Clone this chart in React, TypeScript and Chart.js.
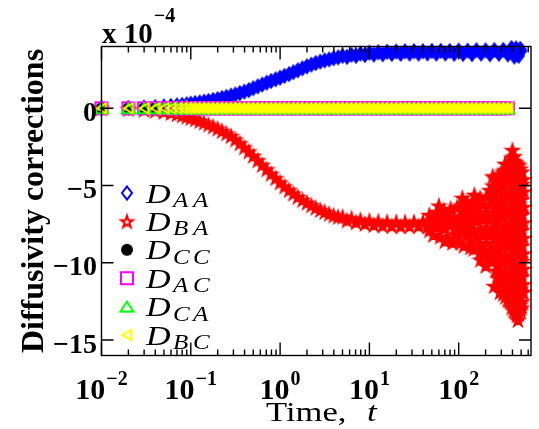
import React, { useEffect, useRef } from 'react';
import { Chart, registerables } from 'chart.js';
Chart.register(...registerables);

// ---------- data (values in units of 1e-4) ----------
const times = [0.01, 0.02, 0.03, 0.04, 0.05, 0.06, 0.07, 0.08, 0.09,
  0.1, 0.112, 0.126, 0.141, 0.158, 0.178, 0.2, 0.224, 0.251, 0.282, 0.316, 0.355, 0.398, 0.447, 0.501, 0.562, 0.631, 0.708, 0.794, 0.891,
  1, 1.12, 1.26, 1.41, 1.58, 1.78, 2, 2.24, 2.51, 2.82, 3.16, 3.55, 3.98, 4.47, 5.01, 5.62, 6.31, 7.08, 7.94, 8.91,
  10, 11.2, 12.6, 14.1, 15.8, 17.8, 20, 22.4, 25.1, 28.2, 31.6, 35.5, 39.8, 44.7, 50.1, 56.2, 63.1, 70.8, 79.4, 89.1,
  100, 112, 126, 141, 158, 178, 200, 224, 251, 282, 316, 355, 398, 447, 501];

const dAA = [0, 0.02, 0.05, 0.08, 0.12, 0.15, 0.19, 0.22, 0.26,
  0.3, 0.34, 0.38, 0.43, 0.48, 0.54, 0.6, 0.67, 0.74, 0.82, 0.9, 0.99, 1.08, 1.18, 1.3, 1.42, 1.54, 1.66, 1.77, 1.88,
  1.98, 2.1, 2.22, 2.34, 2.46, 2.59, 2.72, 2.83, 2.93, 3.02, 3.1, 3.17, 3.24, 3.3, 3.39, 3.33, 3.47, 3.4, 3.54, 3.45,
  3.6, 3.48, 3.63, 3.5, 3.66, 3.52, 3.68, 3.53, 3.69, 3.54, 3.7, 3.54, 3.7, 3.55, 3.71, 3.54, 3.72, 3.55, 3.71, 3.53,
  3.74, 3.52, 3.73, 3.51, 3.76, 3.54, 3.75, 3.5, 3.77, 3.53, 3.78, 3.49, 3.8, 3.5, 3.72];
const dAAExtraT = [390, 420, 440, 470, 490];
const dAAExtraY = [3.9, 3.35, 3.88, 3.4, 3.85];

const dBA = [0, -0.05, -0.1, -0.16, -0.23, -0.3, -0.38, -0.46, -0.55,
  -0.63, -0.72, -0.82, -0.93, -1.05, -1.18, -1.32, -1.47, -1.63, -1.8, -2.02, -2.27, -2.53, -2.8, -3.08, -3.37, -3.66, -3.95, -4.24, -4.52,
  -4.8, -5.06, -5.3, -5.52, -5.73, -5.93, -6.11, -6.28, -6.44, -6.58, -6.71, -6.83, -6.94, -7.03, -7.02, -7.26, -7.12, -7.38, -7.22, -7.48,
  -7.27, -7.55, -7.32, -7.6, -7.35, -7.62, -7.36, -7.64, -7.37, -7.63, -7.36, -7.62, -7.34, -7.66, -7.3, -7.7, -7.25, -7.75, -7.2, -7.8,
  -7.1, -7.9, -7.0, -8.0, -6.9, -8.1, -6.8, -8.2, -6.7, -8.3, -6.6, -8.4, -6.5, -8.5, -6.8];
// dense cloud of scattered values at late times: one list of values per time
const dBACloudT = [47, 52, 57, 62, 68, 74, 81, 88, 96, 105, 114, 124, 135, 147, 160, 174, 189, 205, 222, 240,
  258, 276, 295, 314, 333, 352, 372, 392, 412, 432, 452, 472, 492, 512, 532];
const dBACloudY = [
  [-6.9, -7.9], [-7.3, -8.2], [-6.7, -7.7], [-7.1, -8.3], [-6.6, -7.6], [-7.0, -8.4], [-6.5, -7.5], [-7.0, -8.5],
  [-6.4, -7.4, -8.2], [-6.3, -7.1, -8.0, -8.7], [-6.6, -7.6, -8.9], [-6.1, -7.1, -8.1], [-6.5, -7.5, -8.5, -9.0],
  [-6.0, -7.0, -8.0, -9.1], [-6.3, -7.3, -8.3, -9.0], [-5.8, -6.8, -7.8, -8.8, -9.3], [-6.2, -7.2, -8.2, -9.2],
  [-5.7, -6.7, -7.7, -8.7, -9.5], [-5.3, -6.2, -7.2, -8.2, -9.2, -9.8], [-5.0, -5.9, -6.9, -7.9, -8.9, -9.9],
  [-4.6, -5.5, -6.5, -7.5, -8.5, -9.5, -10.5], [-4.4, -5.3, -6.2, -7.2, -8.2, -9.2, -10.2, -11.0],
  [-4.3, -4.9, -5.9, -6.9, -7.9, -8.9, -9.9, -10.9, -11.3], [-4.1, -5.0, -6.0, -7.0, -8.0, -9.0, -10.0, -11.0, -12.0],
  [-4.0, -4.6, -5.6, -6.6, -7.6, -8.6, -9.6, -10.6, -11.6, -12.2], [-3.9, -4.9, -5.9, -6.9, -7.9, -8.9, -9.9, -10.9, -11.9, -12.4],
  [-3.6, -4.5, -5.5, -6.5, -7.5, -8.5, -9.5, -10.5, -11.5, -12.5], [-3.2, -4.1, -5.1, -6.1, -7.1, -8.1, -9.1, -10.1, -11.1, -12.1, -12.9],
  [-3.4, -4.5, -5.5, -6.5, -7.5, -8.5, -9.5, -10.5, -11.5, -12.5, -13.1], [-3.5, -4.1, -5.1, -6.1, -7.1, -8.1, -9.1, -10.1, -11.1, -12.1, -13.2],
  [-3.6, -4.6, -5.6, -6.6, -7.6, -8.6, -9.6, -10.6, -11.6, -12.6, -13.4], [-3.7, -4.2, -5.2, -6.2, -7.2, -8.2, -9.2, -10.2, -11.2, -12.2, -13.3],
  [-3.9, -4.7, -5.7, -6.7, -7.7, -8.7, -9.7, -10.7, -11.7, -12.7, -13.1], [-4.1, -4.9, -5.9, -6.9, -7.9, -8.9, -9.9, -10.9, -11.9, -12.5],
  [-4.6, -5.4, -6.4, -7.4, -8.4, -9.4, -10.4, -11.4, -11.9]];
const dBASpikeT = [400, 418, 428, 446, 461, 486, 505, 150, 175, 240, 200, 290, 330, 250, 60, 85, 110, 70];
const dBASpikeY = [-2.7, -3.1, -3.5, -13.3, -13.7, -13.0, -12.9, -5.6, -9.8, -4.4, -10.2, -11.9, -3.6, -11.5, -6.3, -8.7, -5.8, -8.6];

const dCC = [0, 0, 0, 0, 0, 0, 0, 0, 0,
  0, 0, 0, 0, 0, 0, 0, 0, 0, 0, 0, 0, 0, 0, 0, 0, 0, 0, 0, 0,
  0, 0, 0, 0, 0, 0, 0, 0, 0, 0, 0, 0, 0, 0, 0, 0, 0, 0, 0, 0,
  0, 0, 0, 0, 0, 0, 0, 0, 0, 0, 0, 0, 0, 0, 0, 0, 0, 0, 0, 0,
  0, 0, 0, 0, 0, 0, 0, 0, 0, 0, 0, 0];
const dAC = [0, 0, 0, 0, 0, 0, 0, 0, 0,
  0, 0, 0, 0, 0, 0, 0, 0, 0, 0, 0, 0, 0, 0, 0, 0, 0, 0, 0, 0,
  0, 0, 0, 0, 0, 0, 0, 0, 0, 0, 0, 0, 0, 0, 0, 0, 0, 0, 0, 0,
  0, 0, 0, 0, 0, 0, 0, 0, 0, 0, 0, 0, 0, 0, 0, 0, 0, 0, 0, 0,
  0, 0, 0, 0, 0, 0, 0, 0, 0, 0, 0, 0];
const dCA = [0, 0, 0, 0, 0, 0, 0, 0, 0,
  0, 0, 0, 0, 0, 0, 0, 0, 0, 0, 0, 0, 0, 0, 0, 0, 0, 0, 0, 0,
  0, 0, 0, 0, 0, 0, 0, 0, 0, 0, 0, 0, 0, 0, 0, 0, 0, 0, 0, 0,
  0, 0, 0, 0, 0, 0, 0, 0, 0, 0, 0, 0, 0, 0, 0, 0, 0, 0, 0, 0,
  0, 0, 0, 0, 0, 0, 0, 0, 0, 0, 0, 0];
const dBC = [0, 0, 0, 0, 0, 0, 0, 0, 0,
  0, 0, 0, 0, 0, 0, 0, 0, 0, 0, 0, 0, 0, 0, 0, 0, 0, 0, 0, 0,
  0, 0, 0, 0, 0, 0, 0, 0, 0, 0, 0, 0, 0, 0, 0, 0, 0, 0, 0, 0,
  0, 0, 0, 0, 0, 0, 0, 0, 0, 0, 0, 0, 0, 0, 0, 0, 0, 0, 0, 0,
  0, 0, 0, 0, 0, 0, 0, 0, 0, 0, 0, 0];

const seriesSubs = ['AA', 'BA', 'CC', 'AC', 'CA', 'BC'];
const yTickValues = [0, -5, -10, -15];
const yTickLabels = ['0', '\u22125', '\u221210', '\u221215'];
const xTickExps = [-2, -1, 0, 1, 2];
const xTickSups = ['\u22122', '\u22121', '0', '1', '2'];
const yTitle = 'Diffusivity corrections';
const xTitleWord = 'Time,';
const xTitleVar = 't';
const scaleBase = 'x 10';
const scaleExp = '\u22124';

// ---------- markers ----------
type Kind = 'diamond' | 'star' | 'circle' | 'square' | 'triUp' | 'triLeft';
function makeMarker(kind: Kind, color: string, filled: boolean): HTMLCanvasElement {
  const c = document.createElement('canvas');
  c.width = 18; c.height = 18;
  const g = c.getContext('2d')!;
  const cx = 9, cy = 9;
  g.beginPath();
  if (kind === 'diamond') {
    g.moveTo(cx, cy - 6.5); g.lineTo(cx + 5, cy); g.lineTo(cx, cy + 6.5); g.lineTo(cx - 5, cy); g.closePath();
  } else if (kind === 'star') {
    const R = 6.3, r = R * 0.382;
    for (let i = 0; i < 10; i++) {
      const rr = i % 2 ? r : R;
      const a = -Math.PI / 2 + (i * Math.PI) / 5;
      const px = cx + rr * Math.cos(a), py = cy + 0.6 + rr * Math.sin(a);
      if (i === 0) g.moveTo(px, py); else g.lineTo(px, py);
    }
    g.closePath();
  } else if (kind === 'circle') {
    g.arc(cx, cy, 6, 0, Math.PI * 2);
  } else if (kind === 'square') {
    g.rect(cx - 6, cy - 6, 12, 12);
  } else if (kind === 'triUp') {
    g.moveTo(cx, cy - 5); g.lineTo(cx + 6.5, cy + 5); g.lineTo(cx - 6.5, cy + 5); g.closePath();
  } else {
    g.moveTo(cx - 4.5, cy); g.lineTo(cx + 4.5, cy - 5); g.lineTo(cx + 4.5, cy + 5); g.closePath();
  }
  if (kind === 'circle') {
    g.fillStyle = color; g.fill();
  } else {
    if (filled) { g.fillStyle = color; g.fill(); }
    g.lineWidth = 2; g.strokeStyle = color; g.lineJoin = 'miter'; g.stroke();
  }
  return c;
}

const xyFrom = (ts: number[], ys: number[]) => ys.map((y, i) => ({ x: ts[i], y })).filter(p => p.x !== undefined);
const xyCloud = (ts: number[], yss: number[][]) => ts.flatMap((t, i) => (yss[i] || []).map(y => ({ x: t, y })));

function drawFitted(ctx: CanvasRenderingContext2D, s: string, x: number, y: number, font: string, sx: number) {
  ctx.save();
  ctx.font = font;
  ctx.textAlign = 'left';
  ctx.textBaseline = 'alphabetic';
  ctx.translate(x, y);
  ctx.scale(sx, 1);
  ctx.fillText(s, 0, 0);
  ctx.restore();
}

export default function App() {
  const ref = useRef<HTMLCanvasElement | null>(null);
  useEffect(() => {
    const canvas = ref.current;
    if (!canvas) return;
    const defs: { kind: Kind; color: string; pts: { x: number; y: number }[]; order: number }[] = [
      { kind: 'diamond', color: '#0000ff', pts: [...xyFrom(times, dAA), ...xyFrom(dAAExtraT, dAAExtraY)], order: 6 },
      { kind: 'star', color: '#ff0000', pts: [...xyFrom(times, dBA), ...xyCloud(dBACloudT, dBACloudY), ...xyFrom(dBASpikeT, dBASpikeY)], order: 5 },
      { kind: 'circle', color: '#000000', pts: xyFrom(times, dCC), order: 4 },
      { kind: 'square', color: '#ff00ff', pts: xyFrom(times, dAC), order: 3 },
      { kind: 'triUp', color: '#00ff00', pts: xyFrom(times, dCA), order: 2 },
      { kind: 'triLeft', color: '#ffff00', pts: xyFrom(times, dBC), order: 1 },
    ];
    const outlineImgs = defs.map(d => makeMarker(d.kind, d.color, false));
    const filledImgs = defs.map(d => makeMarker(d.kind, d.color, true));

    const serif = '"Liberation Serif", "Times New Roman", serif';
    const matlabPlugin = {
      id: 'matlabAxes',
      afterDatasetsDraw(chart: any) {
        const { ctx, chartArea: a, scales } = chart;
        const xs = scales.x, ys = scales.y;
        ctx.save();
        ctx.strokeStyle = '#000';
        ctx.lineWidth = 1.4;
        ctx.strokeRect(a.left, a.top, a.right - a.left, a.bottom - a.top);
        ctx.beginPath();
        for (let e = -2; e <= 3; e++) {
          for (let m = 1; m <= 9; m++) {
            const v = m * Math.pow(10, e);
            if (v < xs.min * 0.999 || v > xs.max) continue;
            const px = xs.getPixelForValue(v);
            const L = m === 1 ? 13 : 6;
            ctx.moveTo(px, a.bottom); ctx.lineTo(px, a.bottom - L);
            ctx.moveTo(px, a.top); ctx.lineTo(px, a.top + L);
          }
        }
        for (const v of yTickValues) {
          const py = ys.getPixelForValue(v);
          ctx.moveTo(a.left, py); ctx.lineTo(a.left + 12, py);
          ctx.moveTo(a.right, py); ctx.lineTo(a.right - 12, py);
        }
        ctx.stroke();
        ctx.restore();
      },
      afterDraw(chart: any) {
        const { ctx, scales } = chart;
        const xs = scales.x, ys = scales.y;
        ctx.save();
        ctx.fillStyle = '#000';
        // y tick labels
        ctx.font = `bold 28px ${serif}`;
        ctx.textAlign = 'right';
        ctx.textBaseline = 'alphabetic';
        yTickValues.forEach((v, i) => {
          const py = ys.getPixelForValue(v);
          ctx.fillText(yTickLabels[i], 97, py + 12.5);
        });
        // x tick labels 10^k
        xTickExps.forEach((e, i) => {
          const px = xs.getPixelForValue(Math.pow(10, e));
          ctx.font = `bold 30px ${serif}`;
          const wb = ctx.measureText('10').width;
          ctx.font = `bold 20px ${serif}`;
          const ws = ctx.measureText(xTickSups[i]).width;
          const x0 = px - (wb + ws + 1) / 2;
          drawFitted(ctx, '10', x0, 399, `bold 30px ${serif}`, 1);
          drawFitted(ctx, xTickSups[i], x0 + wb + 1, 385, `bold 20px ${serif}`, 1);
        });
        // scale factor label
        drawFitted(ctx, scaleBase, 102, 43, `bold 29px ${serif}`, 1);
        ctx.font = `bold 29px ${serif}`;
        const wsb = ctx.measureText(scaleBase).width;
        drawFitted(ctx, scaleExp, 102 + wsb + 1, 22, `bold 20px ${serif}`, 1);
        // y title
        ctx.save();
        ctx.translate(43, 201);
        ctx.rotate(-Math.PI / 2);
        ctx.font = `bold 32px ${serif}`;
        ctx.textAlign = 'center';
        ctx.fillText(yTitle, 0, 0);
        ctx.restore();
        // x title
        drawFitted(ctx, xTitleWord, 266, 421, `27px ${serif}`, 1.28);
        drawFitted(ctx, xTitleVar, 367, 421, `italic 27px ${serif}`, 1.3);
        // legend
        seriesSubs.forEach((s, i) => {
          const y = 193 + i * 28.4;
          const img = outlineImgs[i];
          ctx.drawImage(img, 127 - img.width / 2, y - img.height / 2);
          drawFitted(ctx, 'D', 146, y + 9.5, `italic 28px ${serif}`, 1.22);
          drawFitted(ctx, s[0], 173, y + 14, `italic 20px ${serif}`, 1.25);
          drawFitted(ctx, s[1], 193, y + 14, `italic 20px ${serif}`, 1.25);
        });
        ctx.restore();
      },
    };

    const chart = new Chart(canvas, {
      type: 'scatter',
      data: {
        datasets: defs.map((d, i) => ({
          label: 'D' + seriesSubs[i],
          data: d.pts,
          order: d.order,
          clip: false as any,
          showLine: false,
          pointRadius: 7,
          pointHoverRadius: 7,
          pointStyle: (c: any) => (c.raw && c.raw.x < 0.095 ? outlineImgs[i] : filledImgs[i]),
          borderColor: d.color,
          backgroundColor: d.color,
        })),
      },
      options: {
        animation: false,
        responsive: false,
        events: [],
        layout: { padding: { left: 101.5, top: 46.5, right: 0, bottom: 73.5 } },
        plugins: { legend: { display: false }, tooltip: { enabled: false } },
        scales: {
          x: { type: 'logarithmic', min: 0.01, max: 645, display: false },
          y: { type: 'linear', min: -16, max: 4, display: false },
        },
      },
      plugins: [matlabPlugin],
    } as any);
    return () => chart.destroy();
  }, []);

  return (
    <div style={{ position: 'fixed', left: 0, top: 0, width: 539, height: 429, background: '#fff' }}>
      <canvas ref={ref} width={539} height={429} style={{ display: 'block', width: 539, height: 429 }} />
    </div>
  );
}
